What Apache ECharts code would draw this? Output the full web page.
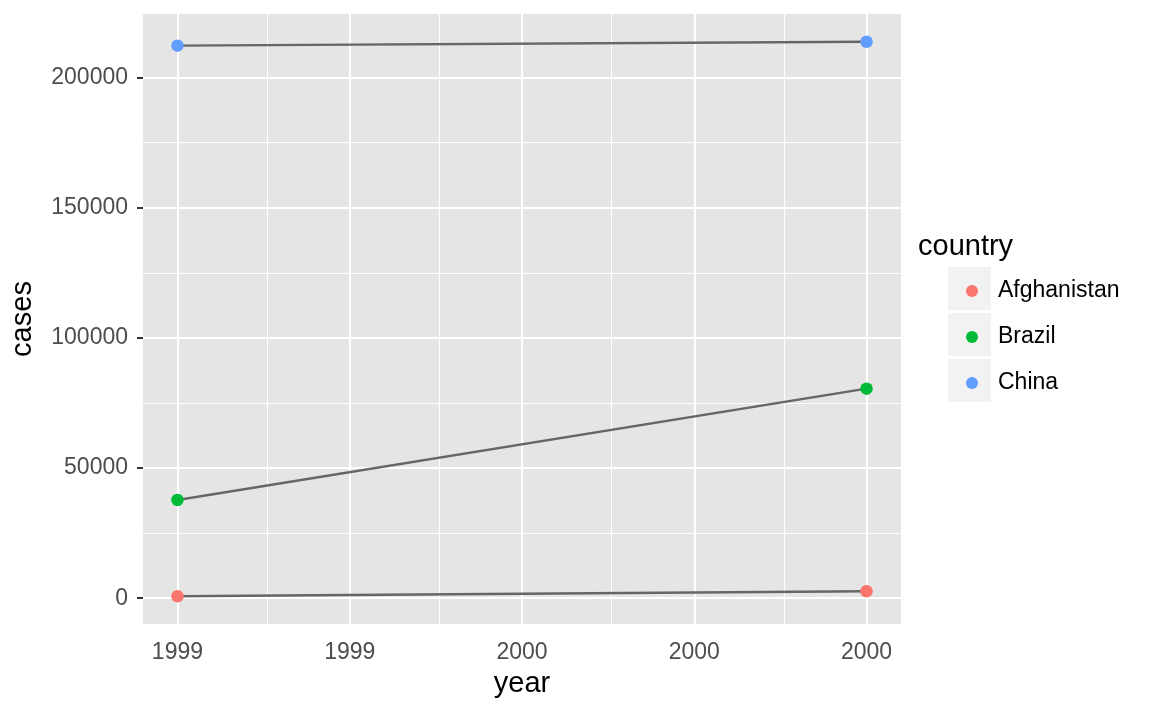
<!DOCTYPE html>
<html>
<head>
<meta charset="utf-8">
<script src="https://cdn.jsdelivr.net/npm/echarts@6/dist/echarts.min.js"></script>
<style>html,body{margin:0;padding:0;background:#fff}#c{width:1152px;height:711px}</style>
</head>
<body>
<div id="c"></div>
<script>
const countries = ["Afghanistan", "Brazil", "China"];
const years = [1999, 2000];
const afghanistanCases = [745, 2666];
const brazilCases = [37737, 80488];
const chinaCases = [212258, 213766];
const xTicks = [1999, 1999.25, 1999.5, 1999.75, 2000];
const xMinor = [1999.125, 1999.375, 1999.625, 1999.875];
const yTicks = [0, 50000, 100000, 150000, 200000];
const yMinor = [25000, 75000, 125000, 175000];
const colors = ["#F8766D", "#00BA38", "#619CFF"];
const casesBy = [afghanistanCases, brazilCases, chinaCases];

const xMin = 1998.95, xMax = 2000.05;
const yLo = Math.min(...casesBy.flat()), yHi = Math.max(...casesBy.flat());
const yPad = (yHi - yLo) * 0.05;
const yMin = yLo - yPad, yMax = yHi + yPad;

const font = "Liberation Sans";
const chart = echarts.init(document.getElementById('c'));

const gridLines = [];
xTicks.forEach(v => gridLines.push({xAxis: v, lineStyle: {width: 2}}));
xMinor.forEach(v => gridLines.push({xAxis: v, lineStyle: {width: 1}}));
yTicks.forEach(v => gridLines.push({yAxis: v, lineStyle: {width: 2}}));
yMinor.forEach(v => gridLines.push({yAxis: v, lineStyle: {width: 1}}));

const series = [{
  type: 'line', data: [], silent: true, z: 1,
  markLine: {
    silent: true, symbol: 'none', z: 1, animation: false,
    label: {show: false},
    lineStyle: {color: '#ffffff', type: 'solid'},
    data: gridLines
  }
}];
countries.forEach((c, i) => {
  series.push({
    name: c, type: 'line', z: 3 + i,
    data: years.map((y, j) => [y, casesBy[i][j]]),
    symbol: 'circle', symbolSize: 12.5, showSymbol: true,
    itemStyle: {color: colors[i], borderWidth: 0},
    lineStyle: {color: '#666666', width: 2.4},
    emphasis: {disabled: true},
    animation: false
  });
});

const legendTop = [267, 313, 359];
const graphics = [];
legendTop.forEach(t => graphics.push({
  type: 'rect', left: 948, top: t, shape: {width: 43, height: 43},
  style: {fill: '#f2f2f2'}, silent: true, z: 0
}));
graphics.push({type: 'text', left: 918, top: 232, style: {text: 'country', font: '29px "' + font + '"', fill: '#000'}});

chart.setOption({
  animation: false,
  textStyle: {fontFamily: font},
  grid: {left: 142, top: 14, width: 759, height: 610, show: true, backgroundColor: '#e5e5e5', borderWidth: 0, containLabel: false},
  xAxis: {
    type: 'value', min: xMin, max: xMax,
    name: 'year', nameLocation: 'middle', nameGap: 45,
    nameTextStyle: {fontSize: 29, color: '#000', fontFamily: font},
    axisLine: {show: false},
    splitLine: {show: false},
    axisTick: {show: true, length: 6, customValues: xTicks, lineStyle: {color: '#333333', width: 2}},
    axisLabel: {customValues: xTicks, fontSize: 23, color: '#4d4d4d', margin: 17, fontFamily: font,
      formatter: v => String(Math.round(v))}
  },
  yAxis: {
    type: 'value', min: yMin, max: yMax,
    name: 'cases', nameLocation: 'middle', nameGap: 106, nameRotate: 90,
    nameTextStyle: {fontSize: 29, color: '#000', fontFamily: font},
    axisLine: {show: false},
    splitLine: {show: false},
    axisTick: {show: true, length: 6, customValues: yTicks, lineStyle: {color: '#333333', width: 2}},
    axisLabel: {customValues: yTicks, fontSize: 23, color: '#4d4d4d', margin: 15, fontFamily: font,
      formatter: v => String(v)}
  },
  legend: {
    data: countries, orient: 'vertical', left: 961, top: 274,
    itemWidth: 16, itemHeight: 12, itemGap: 22, icon: 'circle',
    textStyle: {fontSize: 23, lineHeight: 24, color: '#000', fontFamily: font, padding: [0, 0, 0, 13]},
    selectedMode: false
  },
  graphic: graphics,
  series: series
});
</script>
</body>
</html>
